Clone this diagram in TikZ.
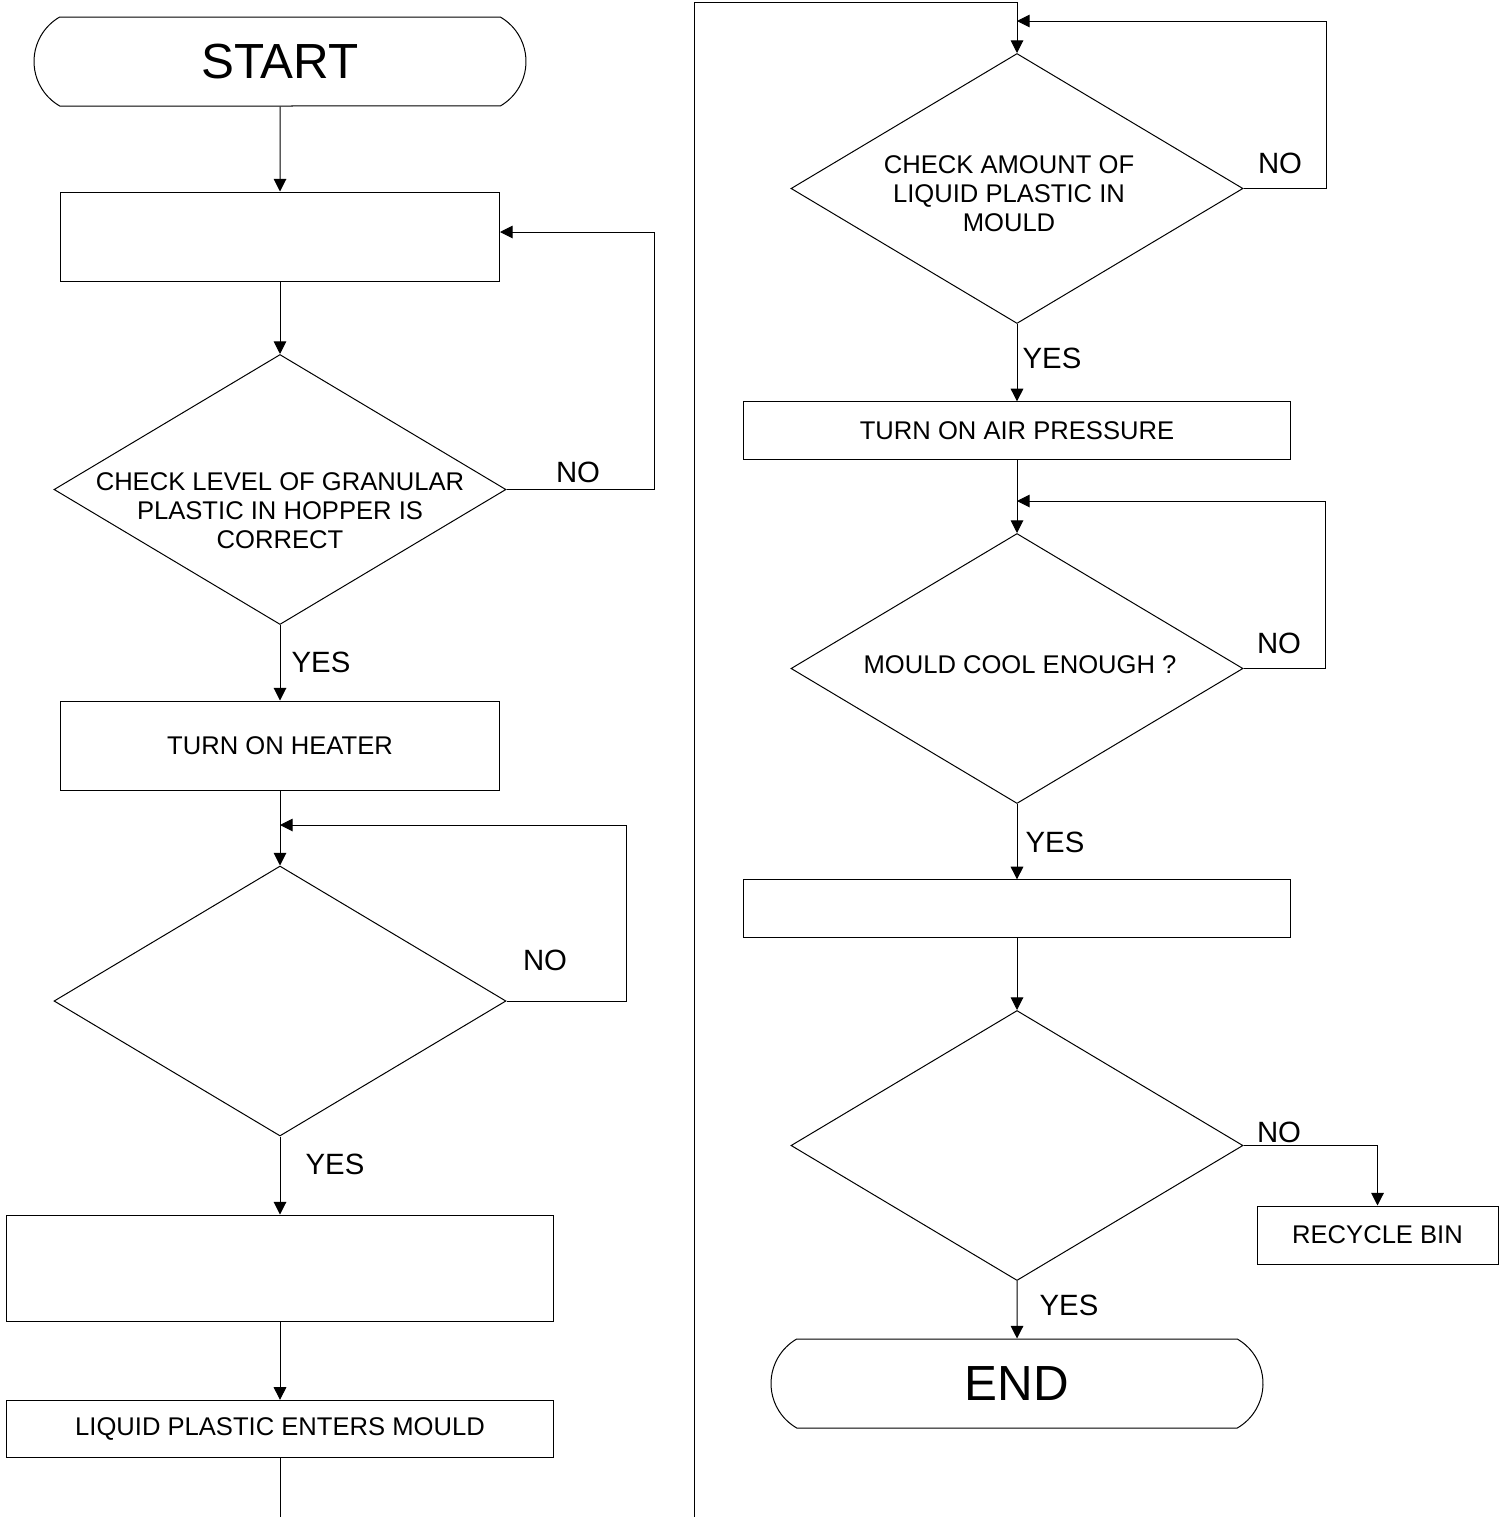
\documentclass[tikz,border=0pt]{standalone}
\usepackage{fontspec}
\setmainfont{Liberation Sans}
\usetikzlibrary{shapes.geometric,shapes.misc,arrows.meta}

\tikzset{every picture/.style={line width=0.75pt}}
\tikzset{
  term/.style={draw, rounded rectangle, rounded rectangle arc length=120, minimum width=369pt, minimum height=66.75pt, inner sep=0pt, font=\fontsize{37}{44}\selectfont},
  proc/.style={draw, rectangle, inner sep=0pt, minimum width=329.25pt, minimum height=66.75pt, font=\fontsize{19.2}{21.75}\selectfont},
  longproc/.style={draw, rectangle, inner sep=0pt, minimum width=410.25pt, minimum height=43pt, font=\fontsize{19.2}{21.75}\selectfont},
  dec/.style={draw, diamond, inner sep=0pt, minimum width=339pt, minimum height=202.5pt},
  dectext/.style={align=center, font=\fontsize{19.2}{21.75}\selectfont},
  yn/.style={font=\fontsize{22}{26}\selectfont},
  arr/.style={-{Triangle[length=9.5pt,width=9.5pt]}}
}

\begin{document}
\begin{tikzpicture}[x=0.75pt,y=0.75pt,yscale=-1,xscale=1]
\useasboundingbox (0,0) rectangle (1502,1517);

%Left column
\node[term] (start) at (280,61.5) {START};
\node[proc] (box1) at (280,236.5) {};
\node[dec] (chk1) at (280,489.5) {};
\node[proc] (heater) at (280,745.5) {TURN ON HEATER};
\node[dec] (chk2) at (280,1001) {};
\node[longproc, minimum height=79.5pt] (box2) at (280,1268) {};
\node[longproc] (liquid) at (280,1429) {LIQUID PLASTIC ENTERS MOULD};

%Right column
\node[dec] (chk3) at (1017,188.5) {};
\node[longproc] (air) at (1017,430.5) {TURN ON AIR PRESSURE};
\node[dec] (chk4) at (1017,668.5) {};
\node[longproc] (box3) at (1017,908.5) {};
\node[dec] (chk5) at (1017,1145.5) {};
\node[term] (end) at (1017,1383.5) {END};
\node[draw, rectangle, inner sep=0pt, minimum width=180.75pt, minimum height=43.5pt, font=\fontsize{19.2}{21.75}\selectfont] (recycle) at (1377.5,1235) {RECYCLE BIN};

% Text Node
\node[dectext] (t1) at (280,511) {CHECK LEVEL OF GRANULAR\\PLASTIC IN HOPPER IS\\CORRECT};
% Text Node
\node[dectext] (t3) at (1009,194) {CHECK AMOUNT OF\\LIQUID PLASTIC IN\\MOULD};
% Text Node
\node[dectext] (t4) at (1020,665) {MOULD COOL ENOUGH ?};

% Yes / No labels
\node[yn] (no1) at (578,472) {NO};
\node[yn] (yes1) at (321,662) {YES};
\node[yn] (no2) at (545,960) {NO};
\node[yn] (yes2) at (335,1164) {YES};
\node[yn] (no3) at (1280,163) {NO};
\node[yn] (yes3) at (1052,358) {YES};
\node[yn] (no4) at (1279,643) {NO};
\node[yn] (yes4) at (1055,842) {YES};
\node[yn] (no5) at (1279,1132) {NO};
\node[yn] (yes5) at (1069,1305) {YES};

%Loop points
\coordinate (m1) at (280,232);
\coordinate (m2) at (280,825);
\coordinate (m3) at (1017,21);
\coordinate (m4) at (1017,501);
\coordinate (lend) at (280,1517);
\coordinate (pgbot) at (694,1517);
\coordinate (pgtop) at (694,2);

%Connectors
\draw[arr] (start) -- (box1);
\draw[arr] (box1) -- (chk1);
\draw[arr] (chk1.east) -- ++(148,0) |- (box1.east |- m1);
\draw[arr] (chk1) -- (heater);
\draw (heater) -- (m2);
\draw[arr] (m2) -- (chk2);
\draw[arr] (chk2.east) -- ++(120,0) |- (m2);
\draw[arr] (chk2) -- (box2);
\draw[arr] (box2) -- (liquid);
\draw (liquid) -- (lend);

\draw[arr] (pgbot) -- (pgtop) -| (chk3.north);
\draw[arr] (chk3.east) -- ++(83,0) |- (m3);
\draw[arr] (chk3) -- (air);
\draw (air) -- (m4);
\draw[arr] (m4) -- (chk4);
\draw[arr] (chk4.east) -- ++(82,0) |- (m4);
\draw[arr] (chk4) -- (box3);
\draw[arr] (box3) -- (chk5);
\draw[arr] (chk5.east) -| (recycle.north);
\draw[arr] (chk5) -- (end);

\end{tikzpicture}
\end{document}
